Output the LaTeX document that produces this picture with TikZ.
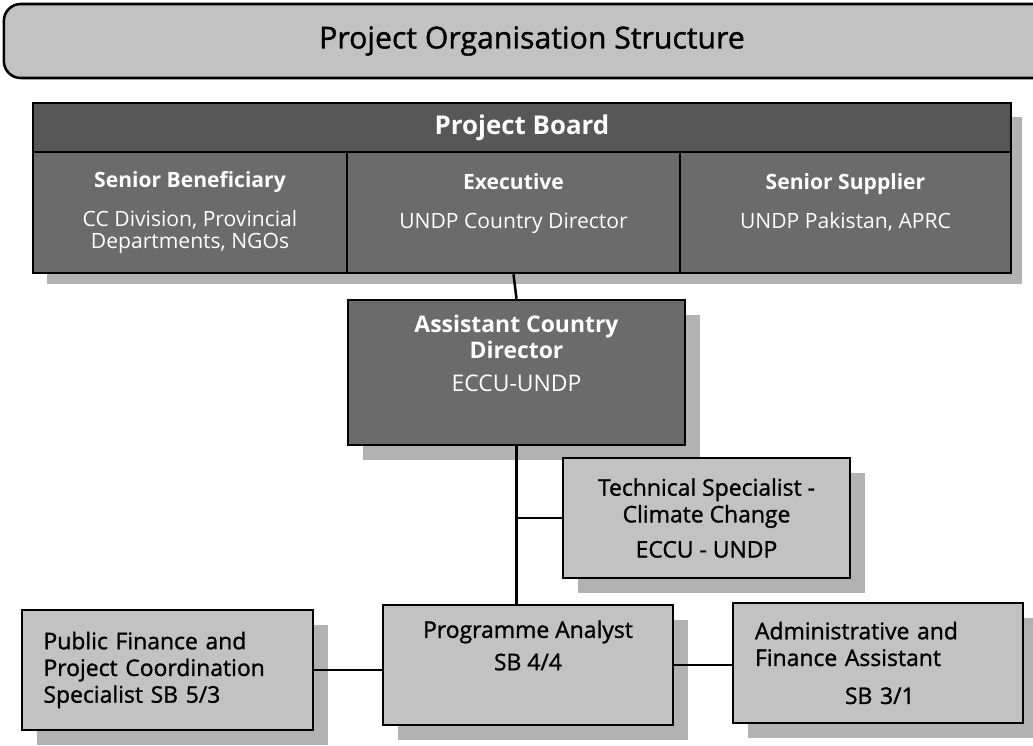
\documentclass[tikz,border=0pt]{standalone}
\usepackage{fontspec}
\setmainfont{Open Sans}
\newfontfamily\heavyish[FakeBold=1.2]{Open Sans}
\usepackage{tikz}
\usetikzlibrary{shadows,backgrounds}
\definecolor{boardgray}{gray}{0.34}
\definecolor{rolegray}{gray}{0.42}
\definecolor{paleboxgray}{gray}{0.76}
\definecolor{shadegray}{gray}{0.70}
\tikzstyle{box}=[draw=black, line width=1.8pt, rectangle, inner sep=4pt, align=center]
\tikzstyle{title box}=[box, fill=paleboxgray, rounded corners=12pt, font=\heavyish\fontsize{21.5}{24}\selectfont]
\tikzstyle{board head}=[box, fill=boardgray, text=white, font=\fontsize{18.4}{22}\selectfont\bfseries]
\tikzstyle{board role}=[box, fill=rolegray, text=white, font=\fontsize{15}{16}\selectfont]
\tikzstyle{cast shadow}=[drop shadow={shadow xshift=0.375cm, shadow yshift=-0.375cm, fill=shadegray, opacity=1}]
\tikzstyle{director box}=[box, fill=rolegray, text=white, cast shadow, font=\fontsize{16.3}{19}\selectfont]
\tikzstyle{staff box}=[box, fill=paleboxgray, cast shadow, font=\heavyish\fontsize{16.3}{19}\selectfont]
\tikzstyle{link}=[draw, line width=1.8pt, -]

\begin{document}
\begin{tikzpicture}[x=0.025cm, y=-0.025cm]
	\useasboundingbox (0,0) rectangle (1033,745);

	% Heading
	\node[title box, minimum width=26.4cm, minimum height=1.85cm] (heading) at (532,41) {Project Organisation Structure};

	% Project board
	\node[board head, minimum width=24.45cm, minimum height=1.225cm] (board) at (522,127.5) {Project Board};
	\foreach \pos/\label/\boxwd/\name in {
		{(190,212.5)/beneficiary/7.85cm/{\textbf{Senior Beneficiary}\\[12pt]CC Division, Provincial\\Departments, NGOs}},
		{(513.5,212.5)/executive/8.325cm/{\textbf{Executive}\\[12pt]UNDP Country Director\\\mbox{}}},
		{(845.5,212.5)/supplier/8.275cm/{\textbf{Senior Supplier}\\[12pt]UNDP Pakistan, APRC\\\mbox{}}}}
	\node[board role, minimum width=\boxwd, minimum height=3.025cm] (\label) at \pos {\name};
	\begin{pgfonlayer}{background}
		\fill[shadegray] ([shift={(15,15)}]board.north west) rectangle ([shift={(10,10)}]supplier.south east);
	\end{pgfonlayer}

	% Project team
	\node[director box, minimum width=8.425cm, minimum height=3.625cm] (acd) at (516.5,372.5)
		{\textbf{Assistant Country}\\\textbf{Director}\\[4pt]ECCU-UNDP\\[9pt]\mbox{}};
	\node[staff box, minimum width=7.175cm, minimum height=3cm] (tech) at (706.5,518)
		{Technical Specialist -\\Climate Change\\[6pt]ECCU - UNDP};
	\node[staff box, minimum width=7.25cm, minimum height=3cm] (analyst) at (528,665)
		{Programme Analyst\\[4pt]SB 4/4\\[9pt]\mbox{}};
	\node[staff box, align=left, text width=6.2cm, minimum width=7.275cm, minimum height=3cm] (pfspec) at (167.5,670)
		{Public Finance and\\Project Coordination\\Specialist SB 5/3};
	\node[staff box, align=left, text width=6.15cm, minimum width=7.25cm, minimum height=3cm] (admin) at (878,663)
		{Administrative and\\Finance Assistant\\[8pt]\hspace*{64pt}SB 3/1};

	% Connect the boxes
	\path[link] (executive.south) -- (acd.north);
	\path[link] (acd.south) -- (acd.south |- analyst.north);
	\path[link] (acd.south |- tech.west) -- (tech.west);
	\path[link] (pfspec.east) -- (pfspec.east -| analyst.west);
	\path[link] (analyst.east) -- (analyst.east -| admin.west);
\end{tikzpicture}
\end{document}
